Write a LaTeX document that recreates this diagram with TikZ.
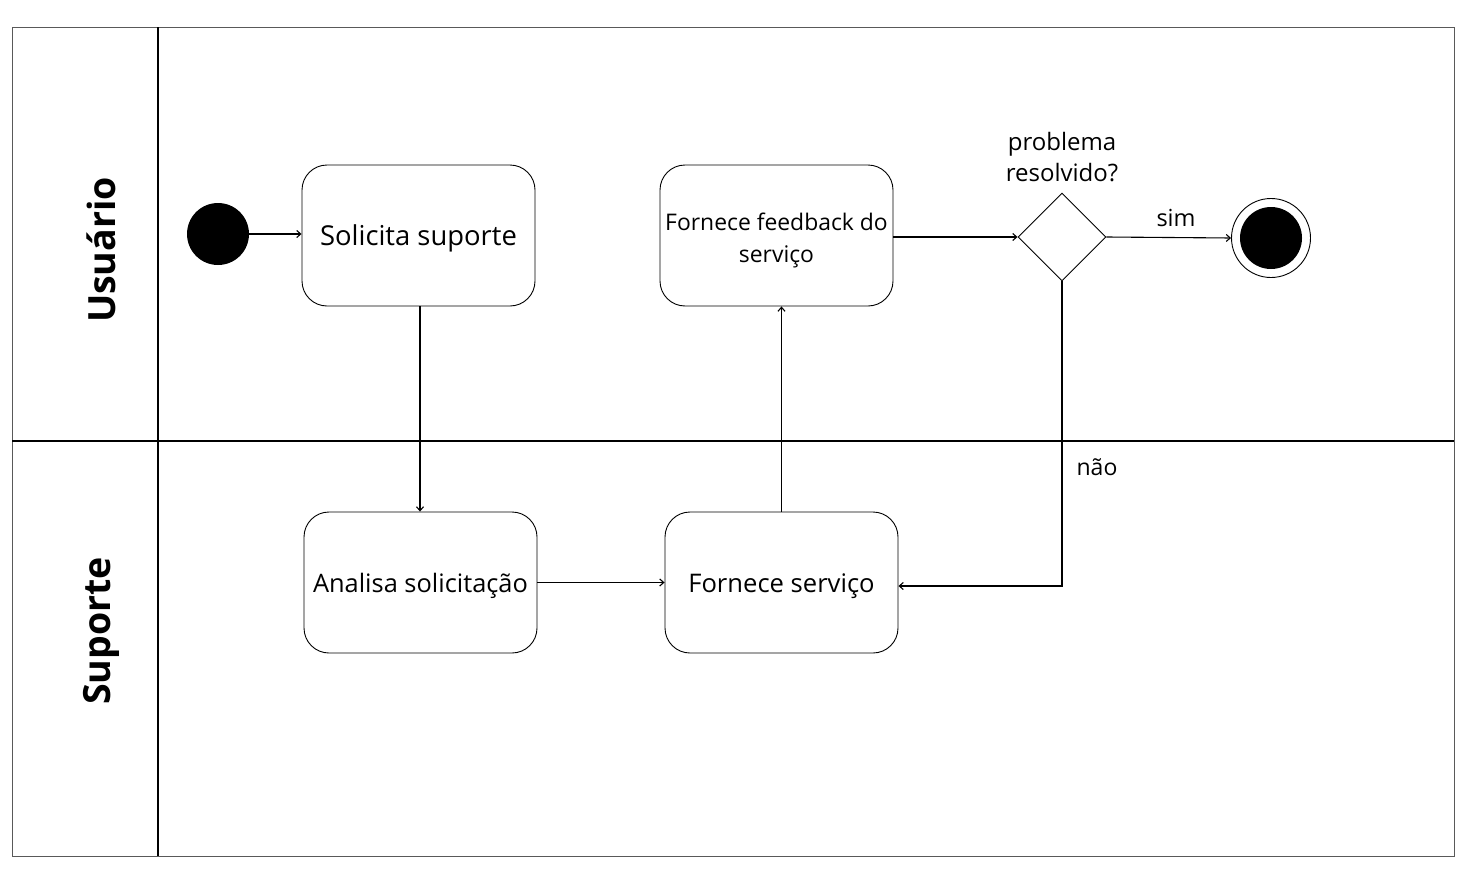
\documentclass[tikz,border=0pt]{standalone}
\usepackage{fontspec}
\setmainfont{Open Sans}
\usetikzlibrary{arrows.meta,shapes.geometric}
\begin{document}
\begin{tikzpicture}[x=1pt,y=-1pt,
  act/.style={draw, line width=0.9pt, rounded corners=25pt, minimum width=233pt, minimum height=141pt, inner sep=0pt},
  inner/.style={align=center, inner sep=0pt},
  conn/.style={line width=1.1pt, -{Straight Barb[length=4pt,width=7pt]}},
  lane/.style={font=\bfseries\fontsize{37.5}{44}\selectfont, rotate=90},
  lbl/.style={font=\fontsize{23.5}{31}\selectfont, align=center, inner sep=0pt}]
\useasboundingbox (0,0) rectangle (1468,886);
\fill[white] (0,0) rectangle (1468,886);
% frame
\draw[gray!70!black, line width=1pt] (12,27) rectangle (1454,856);
\draw[line width=2pt] (158,27) -- (158,856);
\draw[line width=2pt] (12,441) -- (1454,441);
\node[lane] (lu) at (101,250) {Usuário};
\node[lane] (ls) at (101,631) {Suporte};
% nodes
\node[circle, fill=black, minimum size=62pt, inner sep=0pt] (start) at (218,234) {};
\node[act, label={[inner, yshift=-3pt, font=\fontsize{27.4}{32}\selectfont]center:Solicita suporte}] (sol) at (418.5,235.5) {};
\node[act, label={[inner, yshift=-5pt, font=\fontsize{22.9}{32}\selectfont]center:Fornece feedback do\\serviço}] (feed) at (776.5,235.5) {};
\node[draw, line width=0.9pt, diamond, minimum width=88pt, minimum height=88pt, inner sep=0pt] (dec) at (1062,237) {};
\node[lbl, font=\fontsize{24}{31}\selectfont] (q) at (1062,157) {problema\\resolvido?};
\node[circle, draw, line width=0.9pt, minimum size=79pt, inner sep=0pt] (endo) at (1271,238) {};
\node[circle, fill=black, minimum size=62pt, inner sep=0pt] (endi) at (1271,238) {};
\node[act, label={[inner, yshift=-3pt, font=\fontsize{25.4}{32}\selectfont]center:Analisa solicitação}] (ana) at (420.5,582.5) {};
\node[act, label={[inner, yshift=-4pt, font=\fontsize{25.6}{32}\selectfont]center:Fornece serviço}] (serv) at (781.5,582.5) {};
% connectors
\draw[conn] (start.east) -- (sol.west |- start.east);
\draw[conn] (sol.south -| 420,0) -- (ana.north -| 420,0);
\draw[conn] (ana.east) -- (serv.west);
\draw[conn] (serv.north) -- (feed.south -| serv.north);
\draw[conn] (feed.east |- dec.west) -- (dec.west);
\draw[conn] (dec.east) -- (endo.west);
\node[lbl] (sim) at (1176,218) {sim};
\coordinate (corner) at (1062,586);
\draw[conn] (dec.south) -- (corner) -- (serv.east |- corner);
\node[lbl, font=\fontsize{23}{31}\selectfont] (nao) at (1097,467) {não};
\end{tikzpicture}
\end{document}
